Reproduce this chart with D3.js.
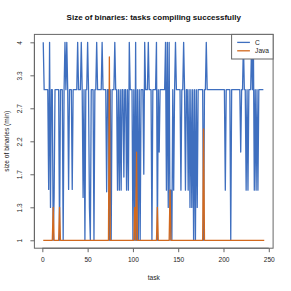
<!DOCTYPE html>
<html>
<head>
<meta charset="utf-8">
<script src="https://cdn.jsdelivr.net/npm/d3@7"></script>
<style>
  body { margin: 0; background: #fff; }
  text { font-family: "Liberation Sans", Arial, sans-serif; }
</style>
</head>
<body>
<div id="chart"></div>
<script>
// series values, one per task (task numbers start at 1)
var cSizes = [
  4, 3.1, 3.1, 3.1, 3.1, 3.1, 1.58, 4, 1.36, 3.1,
  3.1, 1, 1.48, 3.1, 3.1, 3.1, 3.1, 3.1, 1, 3.1,
  3.1, 3.1, 1, 3.1, 4, 3.1, 4, 3.1, 1.58, 3.1,
  3.1, 3.1, 1.58, 3.1, 3.1, 3.1, 3.1, 3.1, 4, 3.1,
  3.1, 3.1, 4, 3.1, 1.48, 3.1, 1, 3.1, 3.1, 4,
  3.1, 1.36, 1, 3.1, 3.1, 3.1, 1, 3.1, 3.1, 4,
  3.1, 3.1, 3.1, 3.1, 3.1, 4, 3.1, 3.1, 3.1, 3.1,
  1.55, 3.1, 3.1, 1, 3.1, 1, 3.1, 3.1, 3.1, 4,
  3.1, 3.1, 1.57, 3.1, 1.57, 3.1, 1.57, 3.1, 3.1, 1.74,
  3.1, 3.1, 1.57, 3.1, 1.57, 4, 3.1, 3.1, 3.1, 1,
  3.1, 1, 4, 1, 3.1, 1, 3.1, 1, 3.1, 3.1,
  3.1, 1.78, 4, 3.1, 3.1, 3.1, 4, 3.1, 3.1, 3.1,
  1, 3.1, 3.1, 3.1, 3.1, 4, 1, 3.1, 2.09, 3.1,
  3.1, 3.1, 3.1, 3.1, 3.1, 4, 1.57, 4, 1.36, 4,
  1, 1.57, 1, 3.1, 1.57, 3.1, 4, 3.1, 3.1, 3.1,
  3.1, 3.1, 1.57, 3.1, 3.1, 4, 3.1, 1.57, 3.1, 3.1,
  1.57, 3.1, 1.36, 3.1, 1.36, 3.1, 1, 3.1, 1, 3.1,
  1.36, 3.1, 3.1, 3.1, 3.1, 3.1, 3.1, 1, 3.1, 3.1,
  4, 3.1, 3.1, 3.1, 3.1, 3.1, 3.1, 3.1, 3.1, 3.1,
  3.1, 3.1, 3.1, 3.1, 3.1, 3.1, 3.1, 3.1, 3.1, 3.1,
  3.1, 1.57, 3.1, 3.1, 3.1, 3.1, 3.1, 1, 3.1, 3.1,
  3.1, 3.1, 3.1, 3.1, 3.1, 3.1, 3.1, 3.1, 2.09, 3.1,
  3.1, 4, 3.1, 3.1, 1.57, 3.1, 1.57, 3.1, 3.1, 3.1,
  4, 3.1, 4, 1.57, 3.1, 1.57, 3.1, 1.57, 3.1, 3.1,
  3.1, 3.1, 3.1, 3.1
];

var javaSizes = [
  1, 1, 1, 1, 1, 1, 1, 1, 1, 1,
  1, 1.36, 1, 1, 1, 1, 1, 1, 1.36, 1,
  1, 1, 1, 1, 1, 1, 1, 1, 1, 1,
  1, 1, 1, 1, 1, 1, 1, 1, 1, 1,
  1, 1, 1, 1, 1, 1, 1, 1, 1, 1,
  1, 1, 1, 1, 1, 1, 1, 1, 1, 1,
  1, 1, 1, 1, 1, 1, 1, 1, 1, 1,
  1, 1, 1, 3.71, 1, 1, 1, 1, 1, 1,
  1, 1, 1, 1, 1, 1, 1, 1, 1, 1,
  1, 1, 1, 1, 1, 1, 1, 1, 1, 1,
  1, 1.36, 1, 2.09, 1, 1, 1, 1, 1, 1,
  1, 1, 1, 1, 1, 1, 1, 1, 1, 1,
  1, 1, 1, 1, 1, 1, 1.36, 1, 1, 1,
  1, 1, 1, 1, 1, 1, 1, 1, 1, 1,
  1.57, 1, 1, 1, 1, 1, 1, 1, 1, 1,
  1, 1, 1, 1, 1, 1, 1, 1, 1, 1,
  1, 1, 1, 1, 1, 1, 1, 1, 1, 1,
  1, 1, 1, 1, 1, 1, 1, 2.44, 1, 1,
  1, 1, 1, 1, 1, 1, 1, 1, 1, 1,
  1, 1, 1, 1, 1, 1, 1, 1, 1, 1,
  1, 1, 1, 1, 1, 1, 1, 1, 1, 1,
  1, 1, 1, 1, 1, 1, 1, 1, 1, 1,
  1, 1, 1, 1, 1, 1, 1, 1, 1, 1,
  1, 1, 1, 1, 1, 1, 1, 1, 1, 1,
  1, 1, 1, 1, 1
];

var seriesNames = ["C", "Java"];
var seriesColors = ["#3f6fbf", "#d2691e"];

var xTicks = [0, 50, 100, 150, 200, 250];
var yTickValues = [1, 1.361, 1.778, 2.25, 2.778, 3.361, 4];
var yTickLabels = ["1", "1.3", "1.7", "2.2", "2.7", "3.3", "4"];

// margins match the plot box of the original
var margin = {top: 34.4, right: 17.9, bottom: 42.8, left: 34.4},
    width = 291 - margin.left - margin.right,
    height = 291 - margin.top - margin.bottom;

var svg = d3.select("#chart")
    .append("svg")
    .attr("width", 291)
    .attr("height", 291);

var g = svg.append("g")
    .attr("transform", "translate(" + margin.left + "," + margin.top + ")");

// x: task index, padded 4% like R does
var nTasks = javaSizes.length;
var xPad = (nTasks - 1) * 0.04;
var x = d3.scaleLinear()
    .domain([1 - xPad, nTasks + xPad])
    .range([0, width]);

// y: square-root scale, padded 4% in sqrt space
var y = d3.scaleSqrt()
    .domain([Math.pow(1 - 0.04, 2), Math.pow(2 + 0.04, 2)])
    .range([height, 0]);

var line = d3.line()
    .x(function(d, i) { return x(i + 1); })
    .y(function(d) { return y(d); });

var allSeries = [cSizes, javaSizes];

g.selectAll(".series")
    .data(allSeries)
    .enter()
    .append("path")
    .attr("class", "series")
    .attr("d", function(d) { return line(d); })
    .attr("fill", "none")
    .attr("stroke", function(d, i) { return seriesColors[i]; })
    .attr("stroke-width", 1.3)
    .attr("stroke-linejoin", "round");

// plot box
g.append("rect")
    .attr("x", 0)
    .attr("y", 0)
    .attr("width", width)
    .attr("height", height)
    .attr("fill", "none")
    .attr("stroke", "#666")
    .attr("stroke-width", 1);

// x axis
var xAxis = g.append("g")
    .attr("transform", "translate(0," + height + ")")
    .call(d3.axisBottom(x).tickValues(xTicks).tickSize(4).tickPadding(5));
xAxis.select(".domain").attr("d", "M" + x(0) + ",0H" + x(250)).attr("stroke", "#666");
xAxis.selectAll(".tick line").attr("stroke", "#666");
xAxis.selectAll("text").attr("font-size", "6.6px").attr("fill", "#222")
    .attr("font-family", "Liberation Sans, Arial, sans-serif");

// y axis, labels parallel to the axis
var yAxis = g.append("g")
    .call(d3.axisLeft(y).tickValues(yTickValues).tickSize(4)
      .tickFormat(function(d, i) { return yTickLabels[i]; }));
yAxis.select(".domain").attr("d", "M0," + y(1) + "V" + y(4)).attr("stroke", "#666");
yAxis.selectAll(".tick line").attr("stroke", "#666");
yAxis.selectAll("text")
    .attr("x", null)
    .attr("dy", null)
    .attr("transform", "translate(-12,0) rotate(-90)")
    .attr("text-anchor", "middle")
    .attr("font-size", "6.6px")
    .attr("fill", "#222")
    .attr("font-family", "Liberation Sans, Arial, sans-serif");

// titles
svg.append("text")
    .attr("x", margin.left + width / 2)
    .attr("y", 19.5)
    .attr("text-anchor", "middle")
    .attr("font-size", "8px")
    .attr("font-weight", "bold")
    .attr("fill", "#111")
    .text("Size of binaries: tasks compiling successfully");

svg.append("text")
    .attr("x", margin.left + width / 2)
    .attr("y", 280)
    .attr("text-anchor", "middle")
    .attr("font-size", "6.6px")
    .attr("fill", "#222")
    .text("task");

svg.append("text")
    .attr("transform", "translate(9," + (margin.top + height / 2) + ") rotate(-90)")
    .attr("text-anchor", "middle")
    .attr("font-size", "6.6px")
    .attr("fill", "#222")
    .text("size of binaries (min)");

// legend, top right corner of the plot
var legend = g.append("g")
    .attr("transform", "translate(" + (width - 41.5) + ",0)");

legend.append("rect")
    .attr("width", 41.5)
    .attr("height", 24.6)
    .attr("fill", "#fff")
    .attr("stroke", "#666")
    .attr("stroke-width", 1);

var legendRows = legend.selectAll(".row")
    .data(seriesNames)
    .enter()
    .append("g")
    .attr("class", "row")
    .attr("transform", function(d, i) { return "translate(0," + (8 + i * 8.4) + ")"; });

legendRows.append("line")
    .attr("x1", 5.6)
    .attr("x2", 18.3)
    .attr("stroke", function(d, i) { return seriesColors[i]; })
    .attr("stroke-width", 1.3);

legendRows.append("text")
    .attr("x", 23.5)
    .attr("dy", "0.35em")
    .attr("font-size", "6.6px")
    .attr("fill", "#222")
    .text(function(d) { return d; });
</script>
</body>
</html>
